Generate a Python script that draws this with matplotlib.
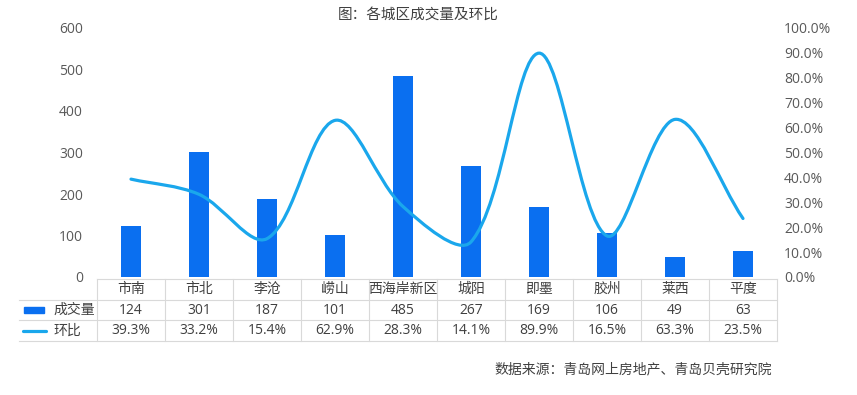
import numpy as np
import matplotlib
matplotlib.use('Agg')
import matplotlib.pyplot as plt
from matplotlib.ticker import PercentFormatter
from matplotlib.transforms import blended_transform_factory
from matplotlib.path import Path
from matplotlib.patches import PathPatch, Rectangle
from matplotlib.lines import Line2D

plt.rcParams['font.family'] = ['Open Sans', 'Noto Sans CJK SC', 'DejaVu Sans']

# 数据
districts = ['市南', '市北', '李沧', '崂山', '西海岸新区', '城阳', '即墨', '胶州', '莱西', '平度']
volume = [124, 301, 187, 101, 485, 267, 169, 106, 49, 63]
mom = [39.3, 33.2, 15.4, 62.9, 28.3, 14.1, 89.9, 16.5, 63.3, 23.5]

bar_color = '#0A6FF0'
line_color = '#1AA7EC'
text_color = '#404040'
tick_color = '#595959'
grid_color = '#D9D9D9'

W, H = 857, 395
fig = plt.figure(figsize=(W / 100, H / 100), dpi=100)


def fx(x):
    return x / W


def fy(y):
    return 1 - y / H


ax = fig.add_axes([fx(97), fy(277), fx(777) - fx(97), fy(28) - fy(277)])
ax2 = ax.twinx()

x = np.arange(len(districts))
ax.bar(x, volume, width=0.3, color=bar_color, zorder=2)
ax.set_xlim(-0.5, len(districts) - 0.5)
ax.set_ylim(0, 600)
ax.set_yticks(range(0, 601, 100))
ax.set_xticks([])
ax.tick_params(axis='y', length=0, pad=10, labelsize=10, labelcolor=tick_color)
ax2.set_ylim(0, 100)

# 平滑曲线（类似 Excel 的平滑线），在像素空间里算控制点
pts = ax2.transData.transform(np.column_stack([x, mom]))
n = len(pts)
verts = [pts[0]]
codes = [Path.MOVETO]


def ctrl(i):
    a = pts[max(i - 1, 0)]
    b = pts[min(i + 1, n - 1)]
    d0 = np.linalg.norm(pts[i] - a)
    d1 = np.linalg.norm(b - pts[i])
    t = b - a
    s = d0 + d1 if d0 + d1 > 0 else 1
    return pts[i] - t * d0 / s / 3, pts[i] + t * d1 / s / 3


for i in range(n - 1):
    verts += [ctrl(i)[1], ctrl(i + 1)[0], pts[i + 1]]
    codes += [Path.CURVE4] * 3
ax2.add_patch(PathPatch(Path(verts, codes), facecolor='none', edgecolor=line_color,
                        lw=2.3, capstyle='round', zorder=3, transform=None))
ax2.set_yticks(range(0, 101, 10))
ax2.yaxis.set_major_formatter(PercentFormatter(decimals=1))
ax2.tick_params(axis='y', length=0, pad=5, labelsize=10, labelcolor=tick_color)

for a in (ax, ax2):
    for s in a.spines.values():
        s.set_visible(False)

# 数据表
tr = blended_transform_factory(ax.transData, fig.transFigure)
row_y = [279, 300, 320, 341]
fig.add_artist(Line2D([fx(97), fx(777)], [fy(row_y[0])] * 2, color=grid_color, lw=0.8))
for yy in row_y[1:]:
    fig.add_artist(Line2D([fx(19), fx(777)], [fy(yy)] * 2, color=grid_color, lw=0.8))
for b in np.arange(-0.5, len(districts), 1.0):
    fig.add_artist(Line2D([b, b], [fy(row_y[0]), fy(row_y[-1])], color=grid_color,
                          lw=0.8, transform=tr))

for i, name in enumerate(districts):
    fig.text(i, fy(289), name, transform=tr, ha='center', va='center', fontsize=10, color=text_color)
    fig.text(i, fy(310), str(volume[i]), transform=tr, ha='center', va='center', fontsize=10, color=text_color)
    fig.text(i, fy(331), f'{mom[i]:.1f}%', transform=tr, ha='center', va='center', fontsize=10, color=text_color)

# 图例
fig.add_artist(Rectangle((fx(24), fy(313)), fx(44) - fx(24), fy(307) - fy(313), color=bar_color))
fig.add_artist(Line2D([fx(23), fx(46)], [fy(330.5)] * 2, color=line_color, lw=2.3,
                      solid_capstyle='round'))
fig.text(fx(53), fy(310), '成交量', ha='left', va='center', fontsize=10, color=text_color)
fig.text(fx(53), fy(331), '环比', ha='left', va='center', fontsize=10, color=text_color)

fig.text(fx(418), fy(15), '图：各城区成交量及环比', ha='center', va='center', fontsize=10.5, color=text_color)
fig.text(fx(772), fy(370), '数据来源：青岛网上房地产、青岛贝壳研究院', ha='right', va='center',
         fontsize=10, color=text_color)

fig.savefig('out.png', dpi=100, facecolor='white')
